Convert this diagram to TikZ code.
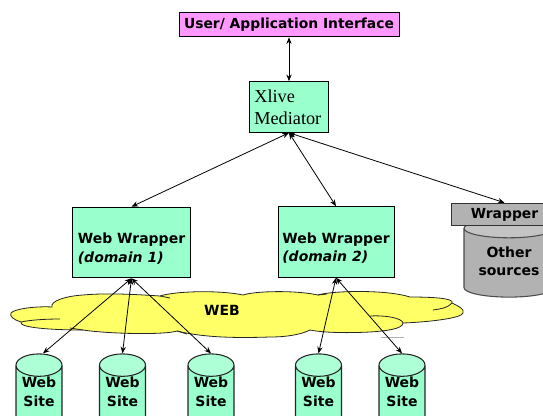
\documentclass[tikz,border=0pt]{standalone}
\usepackage{fontspec}
\setmainfont{DejaVu Sans}
\newfontfamily\serifface{Liberation Serif}
\usetikzlibrary{shapes.geometric,arrows.meta}
\definecolor{mint}{HTML}{99FFCC}
\definecolor{minttop}{HTML}{ADFFD6}
\definecolor{pinkbar}{HTML}{FF99FF}
\definecolor{greybody}{HTML}{B2B2B2}
\definecolor{greytop}{HTML}{C4C4C4}
\definecolor{webyellow}{HTML}{FFFF66}
\newcommand{\lowstrut}[1]{\rule{0pt}{#1}}
\begin{document}
\begin{tikzpicture}[
    x=0.75pt, y=-0.75pt,
    box/.style={draw, line width=0.7pt, fill=mint, inner sep=0pt, align=left},
    wrapbox/.style={box, minimum height=53pt, font=\fontsize{10.5}{14}\selectfont\bfseries},
    bar/.style={draw, line width=0.7pt, inner sep=0pt, font=\fontsize{10.4}{12}\selectfont\bfseries},
    site/.style={draw=black!85, line width=0.8pt, shape=cylinder, shape border rotate=90,
                 aspect=0.65, cylinder uses custom fill, cylinder body fill=mint,
                 cylinder end fill=minttop, minimum width=34.5pt, minimum height=43pt,
                 inner sep=0pt, align=center, font=\fontsize{10.5}{14}\selectfont\bfseries,
                 execute at end node=\rule[-9pt]{0pt}{9pt}},
    fold/.style={line width=0.6pt, draw=black!85},
    arr/.style={{Stealth[length=5pt,width=4pt]}-{Stealth[length=5pt,width=4pt]}, line width=0.6pt}
  ]
  \useasboundingbox (0,0) rectangle (543,415);

  % Cloud
  \draw[fold, fill=webyellow]
    (11,313) .. controls (14,309) and (35,306) .. (52,307)
    .. controls (50,301) and (66,296) .. (83,295)
    .. controls (105,293) and (130,294) .. (160,296)
    .. controls (175,291) and (220,290) .. (243,295)
    .. controls (255,291) and (295,290) .. (318,295)
    .. controls (330,291) and (385,289) .. (410,297)
    .. controls (430,297) and (455,298) .. (452,303)
    .. controls (458,306) and (465,309) .. (463,313)
    .. controls (462,318) and (430,322) .. (403,323)
    .. controls (403,329) and (385,331) .. (370,332)
    .. controls (350,333) and (325,333) .. (310,330)
    .. controls (300,335) and (285,337) .. (270,337)
    .. controls (240,338) and (205,338) .. (177,331)
    .. controls (165,335) and (110,334) .. (83,330)
    .. controls (55,330) and (18,328) .. (21,322)
    .. controls (14,320) and (9,316) .. (11,313) -- cycle;
  % Inner folds of the cloud
  \draw[fold] (60,319) .. controls (45,319) and (30,320) .. (21,322);
  \draw[fold] (70,328) -- (83,330);
  \draw[fold] (160,296) -- (170,298);
  \draw[fold] (177,331) -- (187,334);
  \draw[fold] (318,295) -- (327,294);
  \draw[fold] (452,303) .. controls (448,308) and (440,309) .. (433,310);
  \draw[fold] (403,323) .. controls (402,318) and (385,315) .. (370,316);
  \draw[black!30, line width=0.5pt] (381,337) -- (404,337);
  \node[font=\fontsize{10.5}{12}\selectfont\bfseries] (web) at (222,310) {WEB};

  % Upper levels
  \node[bar, fill=pinkbar, minimum width=165pt, minimum height=18.5pt] (user) at (289,24.5)
    {User/ Application Interface};
  \node[box, minimum width=59pt, minimum height=38pt, font=\serifface\fontsize{13.7}{16.5}\selectfont,
        text width=52pt] (med) at (289,107) {Xlive\\Mediator};

  % Wrappers
  \node[wrapbox, minimum width=88pt] (wwa) at (131.5,242.5) {\lowstrut{17pt}Web Wrapper\\\textit{(domain 1)}};
  \node[wrapbox, minimum width=87pt] (wwb) at (336,242) {\lowstrut{17pt}Web Wrapper\\\textit{(domain 2)}};

  % Other sources
  \node[site, draw=black!70, cylinder body fill=greybody, cylinder end fill=greytop, minimum width=67.5pt,
        minimum height=56pt, aspect=0.31, execute at end node={}] (other) at (509,263)
    {\lowstrut{14pt}Other\\sources};
  \node[bar, draw=black!80, fill=greybody, minimum width=80pt, minimum height=17pt] (wrap) at (504.5,214.5) {Wrapper};

  % Web sites
  \node[site] (sa) at (39,397.5) {Web\\Site};
  \node[site] (sb) at (122.5,397.5) {Web\\Site};
  \node[site] (sc) at (211,397.5) {Web\\Site};
  \node[site] (sd) at (318.5,397.5) {Web\\Site};
  \node[site] (se) at (402,397.5) {Web\\Site};

  \draw[arr] (user) -- (med);
  \draw[arr] (med.south) -- (wwa.north);
  \draw[arr] (med.south) -- (wwb.north);
  \draw[arr] (med.south) -- (wrap.north);
  \draw[arr] (wwa.south) -- ([xshift=3pt]sa.north);
  \draw[arr] (wwa.south) -- (sb.north);
  \draw[arr] (wwa.south) -- (sc.north);
  \draw[arr] (wwb.south) -- (sd.north);
  \draw[arr] (wwb.south) -- (se.north);
\end{tikzpicture}
\end{document}
